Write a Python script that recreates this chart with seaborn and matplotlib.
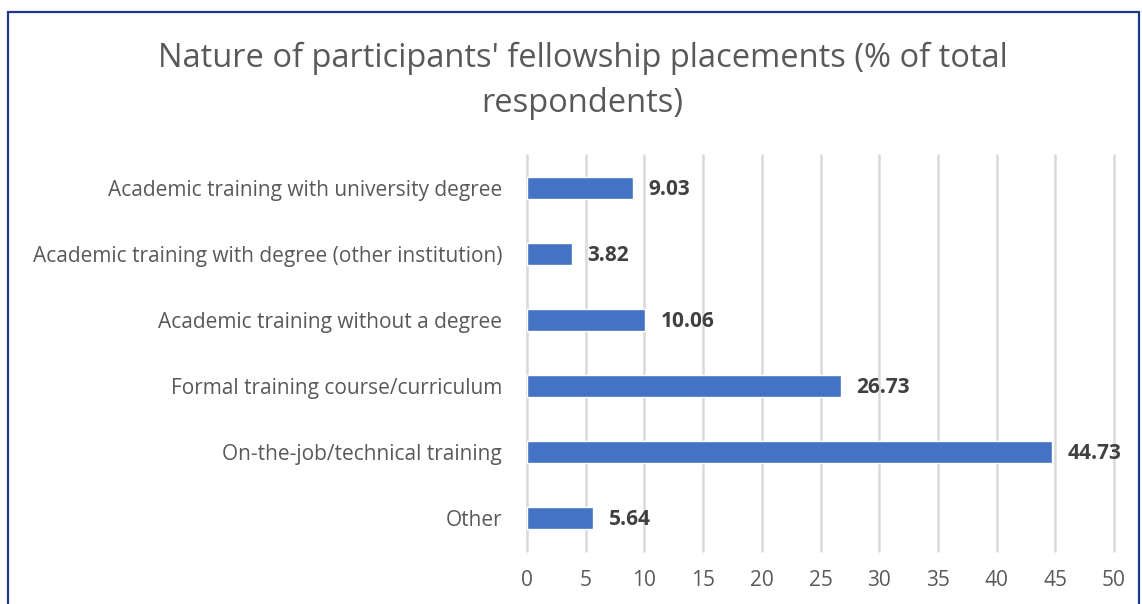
import matplotlib
matplotlib.use("Agg")
import matplotlib.pyplot as plt
import matplotlib.patches as patches
import seaborn as sns
import pandas as pd

categories = [
    "Academic training with university degree",
    "Academic training with degree (other institution)",
    "Academic training without a degree",
    "Formal training course/curriculum",
    "On-the-job/technical training",
    "Other",
]
values = [9.03, 3.82, 10.06, 26.73, 44.73, 5.64]
x_ticks = [0, 5, 10, 15, 20, 25, 30, 35, 40, 45, 50]
title = "Nature of participants' fellowship placements (% of total\nrespondents)"

df = pd.DataFrame({"category": categories, "value": values})

sns.set_theme(style="white")
plt.rcParams["font.family"] = ["Open Sans", "DejaVu Sans"]

fig = plt.figure(figsize=(11.42, 6.04), dpi=100)
ax = fig.add_axes([0.4615, 0.0877, 0.514, 0.6557])

sns.barplot(data=df, x="value", y="category", color="#4472C4", width=0.33,
            saturation=1, ax=ax, zorder=3)

ax.set_xlim(0, 50)
ax.set_ylim(5.5, -0.5)
ax.set_xticks(x_ticks)
ax.xaxis.grid(True, color="#d9d9d9", linewidth=1.8, zorder=0)
for gl in ax.xaxis.get_gridlines():
    gl.set_clip_on(False)
ax.set_axisbelow(True)
for s in ax.spines.values():
    s.set_visible(False)
ax.set_xlabel("")
ax.set_ylabel("")
ax.tick_params(axis="x", labelsize=15, colors="#595959", length=0, pad=14)
ax.tick_params(axis="y", labelsize=15, colors="#595959", length=0, pad=18)

# value labels at the end of each bar
for i, v in enumerate(values):
    ax.annotate(f"{v:.2f}", xy=(v, i), xytext=(11, -1), textcoords="offset points",
                ha="left", va="center", fontsize=15, fontweight="bold",
                color="#404040")

fig.text(0.510, 0.866, title, ha="center", va="center", fontsize=23.5,
         color="#595959", linespacing=1.45)

border = patches.Rectangle((8 / 1142, -0.05), (1139 - 8) / 1142, 1.05 - 12 / 604,
                           transform=fig.transFigure, fill=False,
                           edgecolor="#1f3a8a", linewidth=1.6)
fig.patches.append(border)

fig.savefig("out.png", dpi=100)
